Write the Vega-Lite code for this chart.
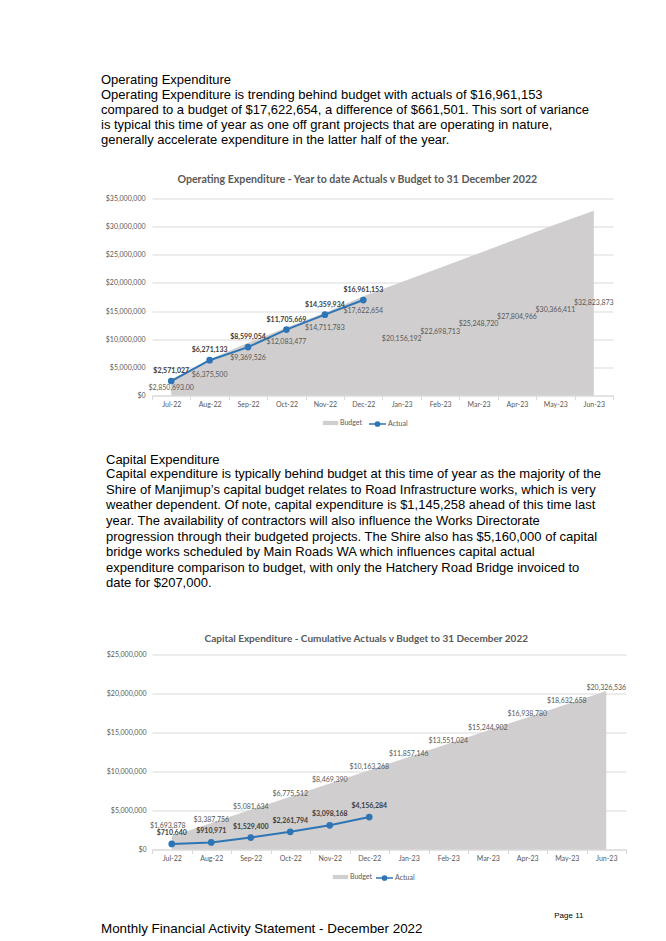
{
  "$schema": "https://vega.github.io/schema/vega-lite/v6.json",
  "background": "white",
  "padding": {"left": 101, "top": 73.5, "right": 0, "bottom": 6},
  "spacing": 24,
  "resolve": {"scale": {"fill": "independent", "stroke": "independent"}, "legend": {"fill": "independent", "stroke": "independent"}},
  "config": {
    "view": {"stroke": null},
    "axis": {"labelFont": "Lato", "labelFontSize": 7, "labelColor": "#595959", "title": null},
    "legend": {"labelFont": "Lato", "labelFontSize": 7, "labelColor": "#595959", "symbolSize": 289, "labelOffset": 1, "padding": 0, "title": null, "direction": "horizontal"},
    "concat": {"spacing": 0}
  },
  "title": {"text": "Monthly Financial Activity Statement - December 2022", "orient": "bottom", "anchor": "start", "frame": "bounds", "font": "Liberation Sans", "fontSize": 13.4, "fontWeight": "normal", "color": "#000000", "offset": 2},
  "vconcat": [
    {
      "resolve": {"scale": {"fill": "independent", "stroke": "independent"}, "legend": {"fill": "independent", "stroke": "independent"}},
      "title": {
        "text": "Operating Expenditure",
        "subtitle": [
          "Operating Expenditure is trending behind budget with actuals of $16,961,153",
          "compared to a budget of $17,622,654, a difference of $661,501. This sort of variance",
          "is typical this time of year as one off grant projects that are operating in nature,",
          "generally accelerate expenditure in the latter half of the year."
        ],
        "anchor": "start", "frame": "bounds", "font": "Liberation Sans", "fontSize": 13, "fontWeight": "normal", "color": "#000000",
        "subtitleFont": "Liberation Sans", "subtitleFontSize": 13, "subtitleColor": "#000000", "subtitleLineHeight": 15, "subtitlePadding": 2, "offset": 28
      },
      "vconcat": [
        {
          "width": 461, "height": 197,
          "title": {"text": "Operating Expenditure - Year to date Actuals v Budget to 31 December 2022", "anchor": "middle", "frame": "bounds", "font": "Lato", "fontSize": 10.6, "fontWeight": "bold", "color": "#595959", "offset": 9},
          "data": {"values": [
            {"month": "Jul-22", "budget": 2850693, "actual": 2571027},
            {"month": "Aug-22", "budget": 6375500, "actual": 6271133},
            {"month": "Sep-22", "budget": 9369526, "actual": 8599054},
            {"month": "Oct-22", "budget": 12083477, "actual": 11705669},
            {"month": "Nov-22", "budget": 14711783, "actual": 14359934},
            {"month": "Dec-22", "budget": 17622654, "actual": 16961153},
            {"month": "Jan-23", "budget": 20156192, "actual": null},
            {"month": "Feb-23", "budget": 22698713, "actual": null},
            {"month": "Mar-23", "budget": 25248720, "actual": null},
            {"month": "Apr-23", "budget": 27804966, "actual": null},
            {"month": "May-23", "budget": 30366411, "actual": null},
            {"month": "Jun-23", "budget": 32823873, "actual": null}
          ]},
          "encoding": {
            "x": {"field": "month", "type": "ordinal", "sort": null, "scale": {"type": "band", "paddingInner": 0, "paddingOuter": 0},
              "axis": {"labelAngle": 0, "domainColor": "#d9d9d9", "tickColor": "#d9d9d9", "tickSize": 4, "tickBand": "extent", "labelPadding": 1, "grid": false}}
          },
          "resolve": {"scale": {"y": "independent"}},
          "layer": [
            {
              "mark": {"type": "area", "opacity": 1},
              "encoding": {
                "y": {"field": "budget", "type": "quantitative", "scale": {"domain": [0, 35000000], "nice": false},
                  "axis": {"format": "$,.0f", "values": [0, 5000000, 10000000, 15000000, 20000000, 25000000, 30000000, 35000000], "grid": true, "gridColor": "#d9d9d9", "domain": false, "ticks": false, "labelPadding": 7, "minExtent": 51, "maxExtent": 51}},
                "fill": {"datum": "Budget", "type": "nominal", "scale": {"domain": ["Budget"], "range": ["#d0cece"]},
                  "legend": {"orient": "none", "legendX": 170, "legendY": 216, "symbolType": "M-0.9,-0.25H0.9V0.25H-0.9Z", "symbolStrokeWidth": 0, "symbolOpacity": 1}}
              }
            },
            {
              "mark": {"type": "line", "strokeWidth": 2, "point": {"filled": true, "size": 22, "color": "#2e75b6"}},
              "encoding": {
                "y": {"field": "actual", "type": "quantitative", "scale": {"domain": [0, 35000000], "nice": false}, "axis": null},
                "stroke": {"datum": "Actual", "type": "nominal", "scale": {"domain": ["Actual"], "range": ["#2e75b6"]},
                  "legend": {"orient": "none", "legendX": 216, "legendY": 216, "symbolType": "M-1,0H1M0.24,0A0.24,0.24,0,1,1,-0.24,0A0.24,0.24,0,1,1,0.24,0Z", "symbolStrokeWidth": 1.6, "symbolFillColor": "#2e75b6", "symbolOpacity": 1}}
              }
            },
            {
              "transform": [{"filter": "datum.month === 'Jul-22'"}],
              "mark": {"type": "text", "font": "Lato", "fontSize": 7, "color": "#595959", "baseline": "middle", "dy": 9},
              "encoding": {
                "y": {"field": "budget", "type": "quantitative", "scale": {"domain": [0, 35000000], "nice": false}, "axis": null},
                "text": {"field": "budget", "type": "quantitative", "format": "$,.2f"}
              }
            },
            {
              "transform": [{"filter": "isValid(datum.actual) && datum.month !== 'Jul-22'"}],
              "mark": {"type": "text", "font": "Lato", "fontSize": 7, "color": "#595959", "baseline": "middle", "dy": 15},
              "encoding": {
                "y": {"field": "budget", "type": "quantitative", "scale": {"domain": [0, 35000000], "nice": false}, "axis": null},
                "text": {"field": "budget", "type": "quantitative", "format": "$,.0f"}
              }
            },
            {
              "transform": [{"filter": "!isValid(datum.actual)"}],
              "mark": {"type": "text", "font": "Lato", "fontSize": 7, "color": "#595959", "baseline": "middle"},
              "encoding": {
                "y": {"field": "budget", "type": "quantitative", "scale": {"domain": [0, 70000000], "nice": false}, "axis": null},
                "text": {"field": "budget", "type": "quantitative", "format": "$,.0f"}
              }
            },
            {
              "mark": {"type": "text", "font": "Lato", "fontSize": 7, "fontWeight": "bold", "color": "#404040", "baseline": "middle", "dy": -10},
              "encoding": {
                "y": {"field": "actual", "type": "quantitative", "scale": {"domain": [0, 35000000], "nice": false}, "axis": null},
                "text": {"field": "actual", "type": "quantitative", "format": "$,.0f"}
              }
            }
          ]
        }
      ]
    },
    {
      "resolve": {"scale": {"fill": "independent", "stroke": "independent"}, "legend": {"fill": "independent", "stroke": "independent"}},
      "title": {"text": "Page 11", "orient": "bottom", "anchor": "end", "frame": "bounds", "font": "Liberation Sans", "fontSize": 8, "fontWeight": "normal", "color": "#000000", "dx": -43, "offset": 28},
      "vconcat": [
        {
          "resolve": {"scale": {"fill": "independent", "stroke": "independent"}, "legend": {"fill": "independent", "stroke": "independent"}},
          "title": {
            "text": "Capital Expenditure",
            "subtitle": [
              "Capital expenditure is typically behind budget at this time of year as the majority of the",
              "Shire of Manjimup’s capital budget relates to Road Infrastructure works, which is very",
              "weather dependent. Of note, capital expenditure is $1,145,258 ahead of this time last",
              "year. The availability of contractors will also influence the Works Directorate",
              "progression through their budgeted projects. The Shire also has $5,160,000 of capital",
              "bridge works scheduled by Main Roads WA which influences capital actual",
              "expenditure comparison to budget, with only the Hatchery Road Bridge invoiced to",
              "date for $207,000."
            ],
            "anchor": "start", "frame": "bounds", "font": "Liberation Sans", "fontSize": 13, "fontWeight": "normal", "color": "#000000",
            "subtitleFont": "Liberation Sans", "subtitleFontSize": 13, "subtitleColor": "#000000", "subtitleLineHeight": 15.6, "subtitlePadding": 1.5, "offset": 43
          },
          "vconcat": [
            {
              "width": 474, "height": 195,
              "title": {"text": "Capital Expenditure - Cumulative Actuals v Budget to 31 December 2022", "anchor": "middle", "frame": "bounds", "font": "Lato", "fontSize": 10, "fontWeight": "bold", "color": "#595959", "offset": 7},
              "data": {"values": [
                {"month": "Jul-22", "budget": 1693878, "actual": 710640},
                {"month": "Aug-22", "budget": 3387756, "actual": 910971},
                {"month": "Sep-22", "budget": 5081634, "actual": 1529400},
                {"month": "Oct-22", "budget": 6775512, "actual": 2261794},
                {"month": "Nov-22", "budget": 8469390, "actual": 3098168},
                {"month": "Dec-22", "budget": 10163268, "actual": 4156284},
                {"month": "Jan-23", "budget": 11857146, "actual": null},
                {"month": "Feb-23", "budget": 13551024, "actual": null},
                {"month": "Mar-23", "budget": 15244902, "actual": null},
                {"month": "Apr-23", "budget": 16938780, "actual": null},
                {"month": "May-23", "budget": 18632658, "actual": null},
                {"month": "Jun-23", "budget": 20326536, "actual": null}
              ]},
              "encoding": {
                "x": {"field": "month", "type": "ordinal", "sort": null, "scale": {"type": "band", "paddingInner": 0, "paddingOuter": 0},
                  "axis": {"labelAngle": 0, "domainColor": "#d9d9d9", "tickColor": "#d9d9d9", "tickSize": 4, "tickBand": "extent", "labelPadding": 1, "grid": false}}
              },
              "resolve": {"scale": {"y": "independent"}},
              "layer": [
                {
                  "mark": {"type": "area", "opacity": 1},
                  "encoding": {
                    "y": {"field": "budget", "type": "quantitative", "scale": {"domain": [0, 25000000], "nice": false},
                      "axis": {"format": "$,.0f", "values": [0, 5000000, 10000000, 15000000, 20000000, 25000000], "grid": true, "gridColor": "#d9d9d9", "domain": false, "ticks": false, "labelPadding": 6, "minExtent": 46, "maxExtent": 46}},
                    "fill": {"datum": "Budget", "type": "nominal", "scale": {"domain": ["Budget"], "range": ["#d0cece"]},
                      "legend": {"orient": "none", "legendX": 180, "legendY": 214, "symbolType": "M-0.9,-0.25H0.9V0.25H-0.9Z", "symbolStrokeWidth": 0, "symbolOpacity": 1}}
                  }
                },
                {
                  "mark": {"type": "line", "strokeWidth": 2, "point": {"filled": true, "size": 22, "color": "#2e75b6"}},
                  "encoding": {
                    "y": {"field": "actual", "type": "quantitative", "scale": {"domain": [0, 25000000], "nice": false}, "axis": null},
                    "stroke": {"datum": "Actual", "type": "nominal", "scale": {"domain": ["Actual"], "range": ["#2e75b6"]},
                      "legend": {"orient": "none", "legendX": 223, "legendY": 214, "symbolType": "M-1,0H1M0.24,0A0.24,0.24,0,1,1,-0.24,0A0.24,0.24,0,1,1,0.24,0Z", "symbolStrokeWidth": 1.6, "symbolFillColor": "#2e75b6", "symbolOpacity": 1}}
                  }
                },
                {
                  "transform": [{"filter": "datum.month === 'Jul-22'"}],
                  "mark": {"type": "text", "font": "Lato", "fontSize": 7, "color": "#595959", "baseline": "middle", "dy": -10, "dx": -4},
                  "encoding": {
                    "y": {"field": "budget", "type": "quantitative", "scale": {"domain": [0, 25000000], "nice": false}, "axis": null},
                    "text": {"field": "budget", "type": "quantitative", "format": "$,.0f"}
                  }
                },
                {
                  "transform": [{"filter": "datum.month !== 'Jul-22'"}],
                  "mark": {"type": "text", "font": "Lato", "fontSize": 7, "color": "#595959", "baseline": "middle", "dy": -3},
                  "encoding": {
                    "y": {"field": "budget", "type": "quantitative", "scale": {"domain": [0, 25000000], "nice": false}, "axis": null},
                    "text": {"field": "budget", "type": "quantitative", "format": "$,.0f"}
                  }
                },
                {
                  "mark": {"type": "text", "font": "Lato", "fontSize": 7, "fontWeight": "bold", "color": "#404040", "baseline": "middle", "dy": -11},
                  "encoding": {
                    "y": {"field": "actual", "type": "quantitative", "scale": {"domain": [0, 25000000], "nice": false}, "axis": null},
                    "text": {"field": "actual", "type": "quantitative", "format": "$,.0f"}
                  }
                }
              ]
            }
          ]
        }
      ]
    }
  ]
}
